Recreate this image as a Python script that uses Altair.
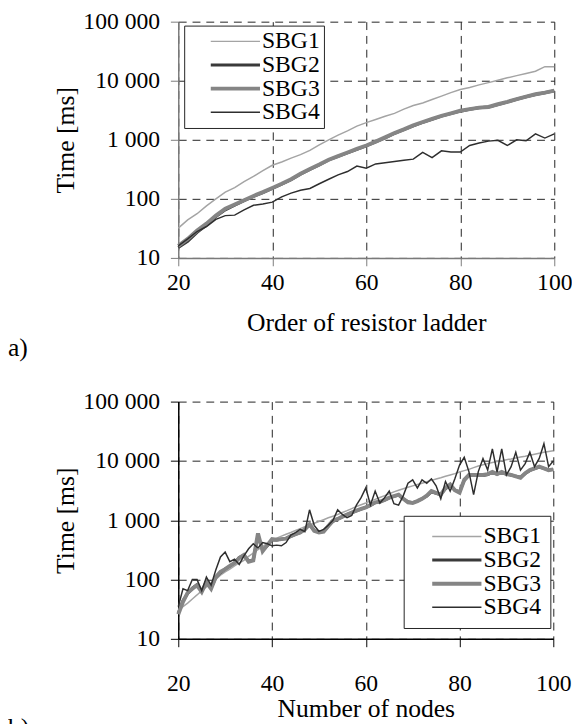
import altair as alt
import pandas as pd

series = ["SBG1", "SBG2", "SBG3", "SBG4"]
colors = ["#a4a4a4", "#3a3a3a", "#858585", "#2e2e2e"]
widths = [1.5, 3.0, 4.0, 1.5]
y_ticks = [10, 100, 1000, 10000, 100000]
x_ticks = [20, 40, 60, 80, 100]

# ---- panel a) : order of resistor ladder ----
x_a = list(range(20, 101, 2))
a_sbg1 = [32, 44, 56, 76, 100, 130, 155, 195, 240, 300, 370, 420, 490, 560, 660, 820, 1000,
          1200, 1420, 1700, 1950, 2200, 2500, 2800, 3300, 3800, 4200, 4800, 5500, 6300, 7100,
          7700, 8500, 9300, 10200, 11200, 12200, 13300, 14500, 17300, 17300]
a_sbg2 = [15, 19, 27, 36, 50, 65, 78, 93, 110, 128, 150, 178, 212, 262, 315, 375, 455, 525, 600,
          690, 790, 920, 1080, 1280, 1480, 1720, 1980, 2230, 2520, 2780, 3050, 3280, 3480, 3580,
          3950, 4350, 4850, 5350, 5850, 6250, 6750]
a_sbg3 = [16, 21, 29, 38, 52, 68, 80, 95, 112, 130, 153, 180, 215, 265, 320, 380, 460, 530, 610,
          700, 800, 930, 1100, 1300, 1500, 1750, 2000, 2250, 2550, 2800, 3100, 3300, 3500, 3600,
          4000, 4400, 4900, 5400, 5900, 6300, 6800]
a_sbg4 = [16, 21, 28, 34, 45, 52, 53, 65, 78, 82, 88, 108, 125, 140, 150, 180, 215, 255, 290,
          360, 330, 390, 410, 430, 450, 470, 610, 500, 650, 620, 620, 800, 880, 950, 980, 800,
          1000, 960, 1260, 1070, 1260]

# ---- panel b) : number of nodes ----
x_b = list(range(20, 101))
b_sbg1 = [30, 35, 40, 47, 55, 65, 75, 88, 100, 118, 135, 150, 170, 190, 210, 245, 280, 320, 360,
          410, 460, 500, 540, 580, 620, 670, 720, 775, 830, 890, 950, 1020, 1100, 1170, 1250,
          1350, 1450, 1570, 1700, 1820, 1950, 2100, 2250, 2420, 2600, 2800, 3000, 3200, 3400,
          3600, 3800, 4000, 4200, 4450, 4700, 4950, 5200, 5500, 5800, 6100, 6500, 6850, 7200,
          7700, 8200, 8600, 9000, 9400, 9800, 10100, 10500, 10800, 11200, 11600, 12000, 12500,
          13000, 13500, 14000, 14400, 14800]
b_sbg2 = [27, 44, 58, 72, 82, 64, 88, 72, 108, 130, 150, 168, 190, 235, 255, 205, 215, 560, 310,
          370, 470, 465, 480, 495, 535, 575, 615, 700, 840, 670, 630, 650, 790, 960, 1040, 1140,
          1240, 1340, 1440, 1540, 1640, 1780, 1980, 2050, 2180, 2380, 2530, 2650, 2300, 2050,
          1980, 2100, 2300, 2550, 3000, 2850, 2700, 3400, 3900, 3200, 3000, 4700, 5700, 5800,
          5800, 5700, 5900, 6400, 6000, 6400, 6000, 5800, 5500, 5300, 6100, 6900, 7400, 7900,
          7500, 7000, 7200]
b_sbg3 = [26, 42, 60, 70, 80, 62, 90, 70, 110, 135, 150, 170, 190, 230, 260, 200, 210, 600, 300,
          380, 480, 470, 480, 490, 540, 580, 620, 700, 860, 660, 620, 640, 800, 980, 1050, 1150,
          1250, 1350, 1450, 1550, 1650, 1800, 2000, 2050, 2200, 2400, 2550, 2700, 2300, 2000,
          1950, 2100, 2300, 2600, 3100, 2900, 2700, 3500, 4000, 3200, 2900, 4800, 5800, 5800,
          5800, 5800, 6000, 6500, 6000, 6500, 6000, 5800, 5500, 5200, 6200, 7000, 7500, 8000,
          7500, 7000, 7200]
b_sbg4 = [35, 70, 65, 100, 100, 65, 110, 80, 145, 240, 290, 200, 220, 180, 250, 330, 400, 340,
          420, 400, 370, 380, 370, 420, 560, 620, 700, 640, 1500, 820, 650, 700, 820, 1000, 1500,
          1250, 1100, 1200, 1800, 2400, 3500, 1800, 3100, 1950, 2400, 3100, 1900, 1800, 2600,
          4200, 4800, 3500, 4800, 4200, 5000, 3800, 2300, 4500, 3100, 5000, 8500, 11500, 6600,
          2700, 6600, 11000, 7000, 16000, 6500, 16000, 5800, 8000, 14000, 7000, 9000, 14000, 8000,
          11000, 19500, 8000, 10000]

label_a = ["a)"]
label_b = ["b)"]
title_a = "Order of resistor ladder"
title_b = "Number of nodes"
y_title = "Time [ms]"

FONT = "Liberation Serif"


def long_df(x, cols):
    rows = []
    for name, vals in zip(series, cols):
        for xi, v in zip(x, vals):
            rows.append({"x": xi, "time": v, "series": name})
    return pd.DataFrame(rows)


def panel(df, tag, xtitle, w, h, axis_color, lx, ly, lpad, rowpad, soff, loff,
          xlabpad, xtitlepad):
    legend = alt.Legend(
        title=None, orient="none", legendX=lx, legendY=ly, padding=lpad,
        fillColor="white", strokeColor="#222222",
        symbolType="M-2.5,0H2.5", symbolSize=400, symbolOffset=soff, labelOffset=loff,
        labelFont=FONT, labelFontSize=24, labelColor="black", labelLimit=300,
        rowPadding=rowpad,
    )
    lines = alt.Chart(df).mark_line(interpolate="linear").encode(
        x=alt.X("x:Q", scale=alt.Scale(domain=[20, 100], nice=False),
                axis=alt.Axis(values=x_ticks, title=xtitle, grid=True, gridDash=[8, 6],
                              gridColor="#222222", gridWidth=1, domainColor=axis_color,
                              domainWidth=1.5, tickColor=axis_color, tickSize=8,
                              labelFont=FONT, labelFontSize=24, labelColor="black",
                              labelPadding=xlabpad, labelFlush=False, titleFont=FONT,
                              titleFontSize=26, titleFontWeight="normal", titleColor="black",
                              titlePadding=xtitlepad, format="d")),
        y=alt.Y("time:Q", scale=alt.Scale(type="log", domain=[10, 100000], nice=False),
                axis=alt.Axis(values=y_ticks, title=y_title, grid=True, gridDash=[8, 6],
                              gridColor="#222222", gridWidth=1, domainColor=axis_color,
                              domainWidth=1.5, tickColor=axis_color, tickSize=8,
                              labelFont=FONT, labelFontSize=24, labelColor="black",
                              labelPadding=11, format=",d",
                              labelExpr="replace(datum.label, ',', ' ')",
                              titleFont=FONT, titleFontSize=26, titleFontWeight="normal",
                              titleColor="black", titlePadding=4)),
        color=alt.Color("series:N", scale=alt.Scale(domain=series, range=colors), legend=legend),
        strokeWidth=alt.StrokeWidth("series:N",
                                    scale=alt.Scale(type="ordinal", domain=series, range=widths),
                                    legend=legend),
        order=alt.Order("series:N"),
    )
    txt = alt.Chart(pd.DataFrame({"label": tag})).mark_text(
        align="left", baseline="middle", font=FONT, fontSize=26, color="black"
    ).encode(text="label:N", x=alt.value(-173), y=alt.value(332))
    return alt.layer(lines, txt).properties(width=w, height=h)


df_a = long_df(x_a, [a_sbg1, a_sbg2, a_sbg3, a_sbg4])
df_b = long_df(x_b, [b_sbg1, b_sbg2, b_sbg3, b_sbg4])

pa = panel(df_a, label_a, title_a, 382, 240, "#7a7a7a", 6, 4, 4, 0, 36, 15, 5, 16)
pb = panel(df_b, label_b, title_b, 381, 241, "#000000", 229, 116, 9, -2, 33, 15, 25, 1)

chart = alt.vconcat(pa, pb, spacing=29).resolve_scale(
    color="independent", strokeWidth="independent"
).resolve_legend(
    color="independent", strokeWidth="independent"
).properties(
    padding={"top": -4, "left": 0, "right": 0, "bottom": 0}
).configure_view(strokeOpacity=0)

chart.save("out.html", embed_options={"renderer": "svg", "actions": False})
